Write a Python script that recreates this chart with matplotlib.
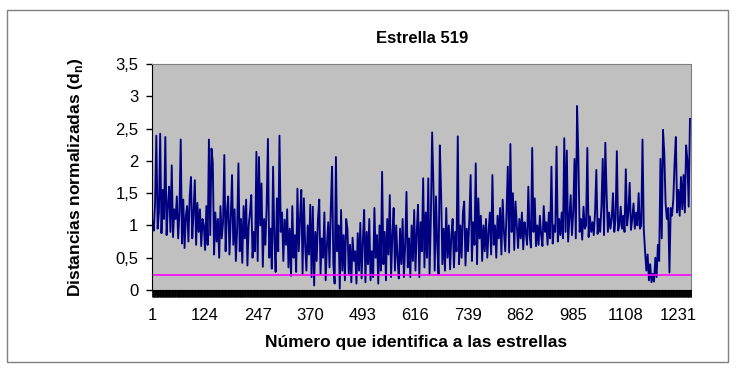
import numpy as np
import matplotlib.pyplot as plt
from matplotlib.patches import Rectangle

plt.rcParams['font.family'] = ['Liberation Sans', 'DejaVu Sans']

# DATA (un valor cada 3 estrellas)
titulo = "Estrella 519"
n_estrellas = 1260
paso = 3
umbral = 0.23
etiquetas_x = [1, 124, 247, 370, 493, 616, 739, 862, 985, 1108, 1231]
ticks_y = [0, 0.5, 1, 1.5, 2, 2.5, 3, 3.5]

distancias = [
    1.05, 0.92, 1.35, 2.39, 0.95, 1.2, 2.42, 0.88, 1.55, 1.1, 2.37, 0.85, 1.3, 1.6, 0.9, 1.93, 0.82, 1.25, 1.1, 1.45,
    0.8, 1.2, 2.33, 0.72, 1.4, 0.65, 1.15, 1.3, 0.75, 1.45, 1.75, 0.8, 1.2, 1.7, 0.7, 1.35, 0.9, 1.25, 0.68, 1.1,
    1.0, 0.62, 1.3, 0.7, 2.33, 0.85, 2.19, 1.98, 0.55, 1.2, 0.75, 1.1, 0.5, 1.3, 0.8, 1.05, 2.09, 0.6, 1.2, 1.45,
    0.55, 1.1, 1.78, 0.7, 1.25, 0.45, 0.95, 1.96, 0.6, 1.1, 0.42, 1.3, 0.8, 1.4, 0.38, 1.0, 1.2, 1.47, 0.5, 0.9,
    0.6, 2.14, 0.45, 2.06, 1.0, 1.65, 0.36, 1.1, 0.7, 1.3, 2.34, 0.5, 0.95, 0.33, 1.91, 0.8, 0.28, 1.42, 0.6, 2.39,
    0.9, 1.2, 0.45, 1.09, 0.7, 1.25, 0.35, 0.95, 0.22, 1.3, 0.5, 0.85, 0.28, 1.57, 0.6, 1.1, 1.55, 0.25, 1.42, 0.7,
    0.3, 1.0, 0.55, 1.32, 0.2, 1.29, 0.07, 0.9, 0.45, 1.1, 1.4, 0.25, 0.8, 0.5, 1.2, 0.15, 0.7, 1.05, 0.35, 1.27,
    1.91, 0.4, 0.1, 2.06, 0.6, 1.0, 0.02, 1.24, 0.3, 0.85, 0.15, 1.1, 0.94, 0.25, 0.7, 0.12, 0.81, 0.45, 0.6, 0.1,
    0.88, 0.3, 1.04, 0.18, 0.75, 1.24, 0.12, 0.9, 0.4, 1.1, 0.15, 0.6, 0.2, 1.27, 0.5, 0.85, 0.1, 1.0, 0.3, 1.83,
    0.4, 0.9, 0.15, 1.1, 0.55, 1.47, 0.2, 0.85, 1.27, 0.3, 1.0, 0.5, 0.18, 0.95, 0.4, 1.1, 0.2, 0.7, 1.52, 0.35,
    0.8, 0.2, 1.0, 0.45, 1.24, 0.3, 0.9, 1.32, 0.2, 1.05, 0.6, 1.73, 0.35, 1.2, 0.5, 1.73, 0.25, 1.1, 2.44, 1.63,
    0.3, 1.45, 0.7, 0.25, 2.24, 1.5, 0.4, 0.95, 0.3, 1.27, 0.5, 1.0, 0.32, 0.85, 1.1, 0.35, 0.9, 0.6, 2.38, 0.4,
    1.0, 0.5, 1.2, 1.37, 0.38, 0.95, 0.6, 1.1, 1.78, 0.45, 1.05, 0.7, 1.96, 0.4, 1.42, 0.8, 1.15, 0.45, 1.0, 0.6,
    1.1, 0.5, 0.9, 1.2, 0.55, 1.78, 0.7, 1.0, 0.5, 1.15, 0.8, 1.27, 0.55, 1.4, 0.9, 0.6, 1.2, 1.91, 0.58, 2.26,
    0.9, 1.5, 0.62, 1.37, 1.0, 0.65, 1.1, 0.8, 1.2, 0.63, 1.05, 0.9, 0.7, 1.6, 0.85, 0.66, 2.2, 0.9, 1.42, 0.68,
    1.0, 0.7, 1.15, 0.85, 0.68, 1.3, 0.9, 1.05, 0.7, 1.2, 0.8, 1.91, 0.72, 1.0, 0.9, 2.22, 0.75, 1.1, 0.85, 1.2,
    0.8, 2.35, 0.9, 2.16, 0.75, 1.1, 1.47, 0.85, 1.2, 2.03, 0.8, 2.85, 2.06, 0.9, 1.1, 0.78, 1.29, 0.95, 1.0, 2.2,
    0.82, 1.14, 0.9, 1.05, 0.85, 1.2, 1.86, 0.87, 1.1, 0.9, 1.3, 2.03, 0.85, 2.28, 1.5, 0.9, 1.2, 0.95, 1.1, 1.5,
    0.9, 1.1, 2.15, 0.92, 1.0, 1.29, 0.95, 1.15, 0.9, 1.87, 1.0, 1.2, 1.66, 0.93, 1.1, 1.34, 0.95, 1.2, 1.0, 1.5,
    0.95, 1.0, 2.33, 0.94, 0.6, 0.3, 0.55, 0.15, 0.4, 0.12, 0.25, 0.13, 0.5, 0.2, 0.7, 0.45, 2.03, 0.8, 2.48, 2.11,
    1.34, 1.1, 1.27, 0.27, 1.27, 1.15, 1.4, 1.96, 2.37, 1.2, 1.55, 1.15, 1.75, 1.25, 1.78, 1.2, 2.24, 2.01, 1.29, 2.65,
]

estrella = np.arange(1, 1 + paso * len(distancias), paso)

# PLOT
fig = plt.figure(figsize=(7.36, 3.71), dpi=100)
ax = fig.add_axes([0.2069, 0.2183, 0.7320, 0.6092])

# marco exterior
fig.patches.append(Rectangle((0.0095, 0.024), 0.980, 0.949, transform=fig.transFigure,
                             fill=False, edgecolor="#808080", linewidth=1.0))

ax.set_facecolor("#C0C0C0")
ax.plot(estrella, distancias, color="#000080", linewidth=1.35)
ax.axhline(umbral, color="#FF00FF", linewidth=1.2)

ax.set_xlim(0.5, n_estrellas + 0.5)
ax.set_ylim(0, 3.5)

ax.set_yticks(ticks_y)
ax.set_yticklabels([f"{v:g}".replace(".", ",") for v in ticks_y])
ax.set_xticks(etiquetas_x)
ax.set_xticklabels([str(v) for v in etiquetas_x])
ax.set_xticks(np.arange(0.5, n_estrellas + 1, 1), minor=True)

ax.tick_params(axis="y", direction="out", length=4, width=1, labelsize=12, pad=6)
ax.tick_params(axis="x", which="major", length=0, labelsize=12, pad=13)
ax.tick_params(axis="x", which="minor", direction="out", length=5, width=0.6, color="black")

for s in ["top", "right"]:
    ax.spines[s].set_color("#808080")
for s in ["left", "bottom"]:
    ax.spines[s].set_color("black")

ax.set_title(titulo, fontsize=12, fontweight="bold", pad=15)
ax.set_xlabel("Número que identifica a las estrellas", fontsize=12.5, fontweight="bold")
ax.set_ylabel(r"Distancias normalizadas (d$_\mathregular{n}$)", fontsize=12.5, fontweight="bold")
ax.xaxis.set_label_coords(0.49, -0.2)
ax.yaxis.set_label_coords(-0.125, 0.5)

plt.savefig("out.png", dpi=100)
